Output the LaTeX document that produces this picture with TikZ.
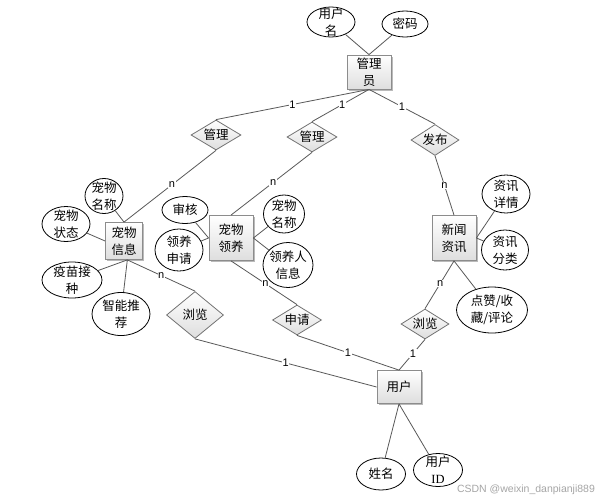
\documentclass[tikz,border=0pt]{standalone}
\usepackage{fontspec}
\setmainfont{Noto Sans CJK SC}
\newfontfamily\latinsans{Liberation Sans}
\newfontfamily\latinserif{Liberation Serif}
\usetikzlibrary{shapes.geometric,shadows}
\begin{document}
\begin{tikzpicture}[x=1pt,y=-1pt,
 every node/.style={font=\fontsize{12.5}{17}\selectfont},
 entity/.style={rectangle, draw=black!45, line width=0.8pt, top color=white, bottom color=black!13,
   drop shadow={shadow xshift=1.5pt,shadow yshift=-1.5pt,fill=black!60,opacity=0.45},
   align=center, inner sep=1pt},
 rel/.style={diamond, draw=black!55, line width=0.8pt, top color=white, bottom color=black!13,
   inner sep=0pt, shape aspect=1.7, align=center},
 attr/.style={ellipse, draw=black, line width=0.8pt, fill=white, inner sep=0pt},
 atxt/.style={align=center, inner sep=0pt},
 conn/.style={draw=black!65, line width=0.8pt},
 card/.style={font=\latinsans\fontsize{11}{12}\selectfont, fill=white, inner sep=0.6pt},
]
\useasboundingbox[fill=white] (0,0) rectangle (607,501);

% entities
\node[entity, minimum width=44, minimum height=34] (admin) at (369,72) {管理\\员};
\node[entity, minimum width=37, minimum height=37] (pet) at (124,241) {宠物\\信息};
\node[entity, minimum width=44, minimum height=45] (adopt) at (231,238) {宠物\\领养};
\node[entity, minimum width=44, minimum height=45] (news) at (454,238) {新闻\\资讯};
\node[entity, minimum width=44, minimum height=33] (user) at (399,387) {用户};

% relationships
\node[rel, minimum width=50, minimum height=30] (d1) at (216,135) {管理};
\node[rel, minimum width=50, minimum height=30] (d2) at (312,137) {管理};
\node[rel, minimum width=48, minimum height=31] (d3) at (435,140) {发布};
\node[rel, minimum width=57, minimum height=47] (d4) at (195,315) {浏览};
\node[rel, minimum width=49, minimum height=30] (apply) at (297,320) {申请};
\node[rel, minimum width=48, minimum height=30] (d5) at (425,324) {浏览};

% attributes
\node[attr, minimum width=48, minimum height=30, label={[atxt]center:用户\\名}] (uname) at (331,22) {};
\node[attr, minimum width=46, minimum height=26, label={[atxt]center:密码}] (pwd) at (405,24) {};
\node[attr, minimum width=38, minimum height=35, label={[atxt]center:宠物\\名称}] (pname) at (104,196) {};
\node[attr, minimum width=48, minimum height=35, label={[atxt]center:宠物\\状态}] (pstate) at (66,224) {};
\node[attr, minimum width=60, minimum height=36, label={[atxt]center:疫苗接\\种}] (vacc) at (72,280) {};
\node[attr, minimum width=58, minimum height=43, label={[atxt]center:智能推\\荐}] (recom) at (121,314) {};
\node[attr, minimum width=46, minimum height=27, label={[atxt]center:审核}] (audit) at (185,210) {};
\node[attr, minimum width=48, minimum height=42, label={[atxt]center:领养\\申请}] (aapp) at (179,250) {};
\node[attr, minimum width=41, minimum height=38, label={[atxt]center:宠物\\名称}] (pname2) at (284,214) {};
\node[attr, minimum width=50, minimum height=45, label={[atxt]center:领养人\\信息}] (adopter) at (288,265) {};
\node[attr, minimum width=48, minimum height=38, label={[atxt]center:资讯\\详情}] (ndet) at (506,194) {};
\node[attr, minimum width=47, minimum height=40, label={[atxt]center:资讯\\分类}] (ncat) at (505,250) {};
\node[attr, minimum width=71, minimum height=46, label={[atxt]center:点赞/收\\藏/评论}] (like) at (492,310) {};
\node[attr, minimum width=49, minimum height=32, label={[atxt]center:姓名}] (name) at (381,474) {};
\node[attr, minimum width=49, minimum height=33, label={[atxt]center:用户\\{\latinserif ID}}] (uid) at (438,470) {};

% connectors
\draw[conn] (uname) -- (admin.north);
\draw[conn] (pwd) -- (admin.north);
\draw[conn] (admin.south) -- node[card,pos=.5]{1} (d1.north);
\draw[conn] (admin.south) -- node[card,pos=.47]{1} (d2.north);
\draw[conn] (admin.south) -- node[card,pos=.5]{1} (d3.north);
\draw[conn] (d1.south) -- node[card,pos=.48]{n} (pet.north);
\draw[conn] (d2.south) -- node[card,pos=.48]{n} (adopt.north);
\draw[conn] (d3.south) -- node[card,pos=.5]{n} (news.north);

\draw[conn] (pname) -- (pet.north);
\draw[conn] (pstate) -- (pet.west);
\draw[conn] (vacc) -- (pet.-80);
\draw[conn] (recom) -- (pet.-80);
\draw[conn] (pet.-80) -- node[card,pos=.5]{n} (d4.north);

\draw[conn] (audit) -- (adopt.west);
\draw[conn] (aapp) -- (adopt.west);
\draw[conn] (pname2) -- (adopt.east);
\draw[conn] (adopter) -- (adopt.east);
\draw[conn] (adopt.south) -- node[card,pos=.52]{n} (apply.north);

\draw[conn] (ndet) -- (news.east);
\draw[conn] (ncat) -- (news.east);
\draw[conn] (news.south) -- (like);
\draw[conn] (news.south) -- node[card,pos=.48]{n} (d5.north);

\draw[conn] (d4.south) -- node[card,pos=.5]{1} (user.west);
\draw[conn] (apply.south) -- node[card,pos=.5]{1} (user.north);
\draw[conn] (d5.south) -- node[card,pos=.46]{1} (user.north);
\draw[conn] (user.south) -- (name);
\draw[conn] (user.south) -- (uid);

\node[font=\latinsans\fontsize{10.5}{12}\selectfont, text=black!35, inner sep=0pt] (wm) at (526,490) {CSDN @weixin\_danpianji889};
\end{tikzpicture}
\end{document}
